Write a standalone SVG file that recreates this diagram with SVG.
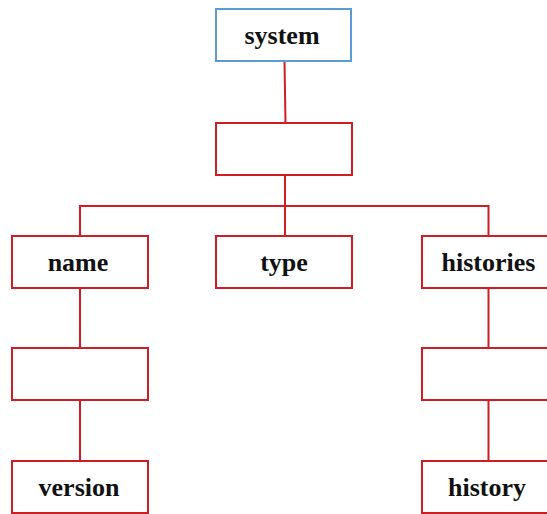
<svg xmlns="http://www.w3.org/2000/svg" width="547" height="514" viewBox="0 0 547 514">
<style>
.box{fill:#fff;stroke:#D01C24;stroke-width:2}
.blue{fill:#fff;stroke:#5B9BD5;stroke-width:2}
.lbl{font-family:"Liberation Serif","Times New Roman",serif;font-weight:bold;font-size:26px;fill:#111;text-anchor:middle}
.ln{fill:none;stroke:#D01C24;stroke-width:2}
</style>
<rect width="547" height="514" fill="#fff"/>
<g id="connectors">
<path class="ln" d="M284.5 61 L285.5 123"/>
<path class="ln" d="M285 175 V236"/>
<path class="ln" d="M80 236 V206 H488.5 V236"/>
<path class="ln" d="M80 288 V348"/>
<path class="ln" d="M80 400 V461"/>
<path class="ln" d="M488.5 288 V348"/>
<path class="ln" d="M488.5 400 V461"/>
</g>
<g id="system"><rect class="blue" x="216" y="9" width="135" height="52"/><text class="lbl" x="282" y="44">system</text></g>
<g id="mid"><rect class="box" x="216" y="123" width="136" height="52"/></g>
<g id="name"><rect class="box" x="12" y="236" width="136" height="52"/><text class="lbl" x="78" y="271">name</text></g>
<g id="type"><rect class="box" x="216" y="236" width="136" height="52"/><text class="lbl" x="284" y="271">type</text></g>
<g id="histories"><rect class="box" x="422" y="236" width="136" height="52"/><text class="lbl" x="488.5" y="271">histories</text></g>
<g id="name-child"><rect class="box" x="12" y="348" width="136" height="52"/></g>
<g id="histories-child"><rect class="box" x="422" y="348" width="136" height="52"/></g>
<g id="version"><rect class="box" x="12" y="461" width="136" height="52"/><text class="lbl" x="79" y="496">version</text></g>
<g id="history"><rect class="box" x="422" y="461" width="136" height="52"/><text class="lbl" x="487" y="496">history</text></g>
</svg>
